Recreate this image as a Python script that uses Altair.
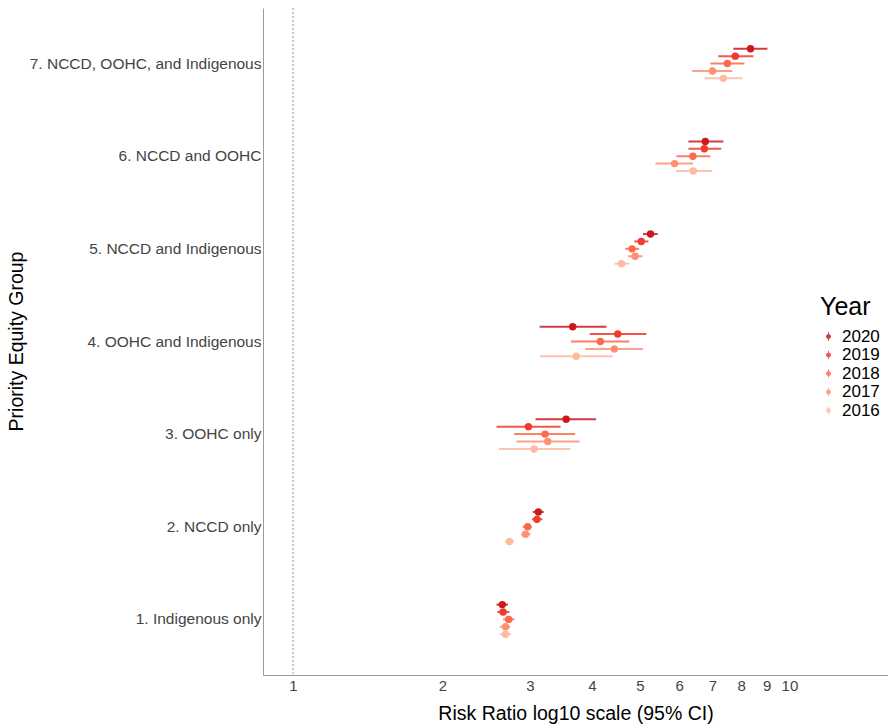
import altair as alt
import pandas as pd

groups = ["1. Indigenous only", "2. NCCD only", "3. OOHC only", "4. OOHC and Indigenous",
          "5. NCCD and Indigenous", "6. NCCD and OOHC", "7. NCCD, OOHC, and Indigenous"]
years = ["2020", "2019", "2018", "2017", "2016"]
colors = ["#cb181d", "#ef3b2c", "#fb6a4a", "#fc9272", "#fcbba1"]

rr = [[2.64, 2.65, 2.72, 2.68, 2.68],
      [3.12, 3.10, 2.97, 2.94, 2.73],
      [3.55, 2.98, 3.22, 3.26, 3.06],
      [3.66, 4.51, 4.16, 4.44, 3.72],
      [5.25, 5.03, 4.82, 4.89, 4.59],
      [6.77, 6.74, 6.39, 5.87, 6.40],
      [8.35, 7.78, 7.50, 7.00, 7.36]]
lo = [[2.57, 2.58, 2.65, 2.61, 2.61],
      [3.04, 3.03, 2.90, 2.88, 2.67],
      [3.08, 2.57, 2.79, 2.82, 2.60],
      [3.14, 3.96, 3.63, 3.88, 3.14],
      [5.07, 4.87, 4.67, 4.73, 4.44],
      [6.26, 6.26, 5.92, 5.37, 5.91],
      [7.71, 7.19, 6.93, 6.37, 6.74]]
hi = [[2.71, 2.73, 2.79, 2.74, 2.75],
      [3.20, 3.18, 3.03, 3.01, 2.79],
      [4.08, 3.46, 3.70, 3.78, 3.62],
      [4.28, 5.15, 4.76, 5.07, 4.41],
      [5.43, 5.20, 4.98, 5.06, 4.76],
      [7.36, 7.29, 6.93, 6.40, 6.99],
      [9.03, 8.46, 8.12, 7.67, 8.04]]
x_ticks = [1, 2, 3, 4, 5, 6, 7, 8, 9, 10]
ref_value = [1]

rows = []
for gi, g in enumerate(groups):
    for yi, yr in enumerate(years):
        rows.append({"group": g, "year": yr, "rr": rr[gi][yi], "lo": lo[gi][yi], "hi": hi[gi][yi]})
df = pd.DataFrame(rows)

FONT = "Liberation Sans"
xscale = alt.Scale(type="log", domain=[0.87, 15.8], nice=False)
yenc = alt.Y("group:N", sort=groups[::-1],
             scale=alt.Scale(paddingInner=0, paddingOuter=0.1),
             axis=alt.Axis(title="Priority Equity Group", ticks=False, domainColor="#9a9a9a",
                           labelFontSize=15.5, labelColor="#444444", labelPadding=2, labelLimit=400,
                           labelFont=FONT, titleFont=FONT, titleFontSize=19.5, titleFontWeight="normal",
                           titleColor="#000000", titleX=-237, titleY=333, titleAngle=-90))
yoff = alt.YOffset("year:N", sort=years, scale=alt.Scale(range=[27.8, 64.8]))
cenc = alt.Color("year:N", sort=years, scale=alt.Scale(domain=years, range=colors),
                 legend=alt.Legend(title="Year", orient="none", legendX=557, legendY=287,
                                   titleFontSize=25, titleFont=FONT, titleFontWeight="normal",
                                   titleColor="#000000", labelFontSize=17, labelFont=FONT,
                                   labelColor="#000000", symbolSize=230, rowPadding=0.5,
                                   labelOffset=5,
                                   symbolType="M-0.32,0A0.32,0.32 0 1,1 0.32,0A0.32,0.32 0 1,1 -0.32,0Z M-0.06,-0.55L0.06,-0.55L0.06,0.55L-0.06,0.55Z",
                                   symbolStrokeWidth=0, titlePadding=8))

xaxis = alt.Axis(title="Risk Ratio log10 scale (95% CI)", values=x_ticks, format="d", ticks=False,
                 grid=False, domainColor="#9a9a9a", labelFontSize=15, labelColor="#444444",
                 labelFont=FONT, labelPadding=3, titleFont=FONT, titleFontSize=19.5,
                 titleFontWeight="normal", titleColor="#000000", titlePadding=11, labelFlush=False)

ref = alt.Chart(pd.DataFrame({"v": ref_value})).mark_rule(
    color="#999999", strokeDash=[2, 2], strokeWidth=1
).encode(x=alt.X("v:Q", scale=xscale, axis=xaxis))

rules = alt.Chart(df).mark_rule(strokeWidth=2, opacity=0.85).encode(
    x=alt.X("lo:Q", scale=xscale, axis=xaxis), x2="hi:Q", y=yenc, yOffset=yoff, color=cenc)

pts = alt.Chart(df).mark_point(filled=True, opacity=1, size=55).encode(
    x=alt.X("rr:Q", scale=xscale, axis=xaxis), y=yenc, yOffset=yoff, color=cenc)

chart = alt.layer(ref, rules, pts).properties(
    width=625, height=667,
    autosize=alt.AutoSizeParams(type="none"),
    padding={"left": 263, "top": 8, "right": 0, "bottom": 49},
).configure(background="white").configure_view(stroke=None)

chart.save("out.html", embed_options={"renderer": "svg", "actions": False})
